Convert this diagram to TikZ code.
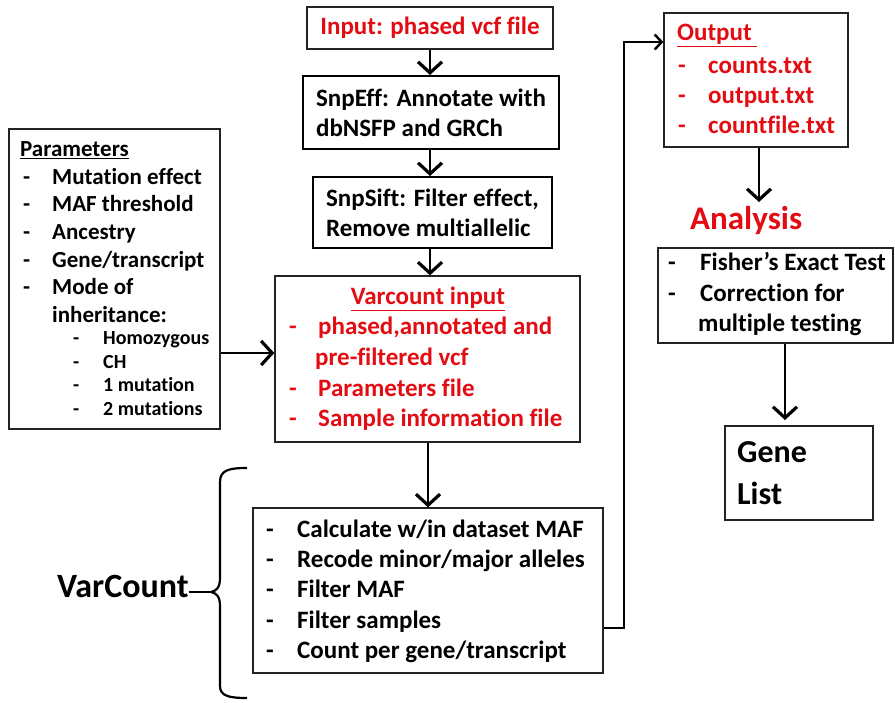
\documentclass[tikz,border=0pt]{standalone}
\usepackage{fontspec}
\setmainfont{Carlito}[Ligatures=NoCommon]
\usetikzlibrary{arrows.meta,calc,fit}
\definecolor{myred}{RGB}{226,12,18}
\definecolor{boxline}{RGB}{35,35,35}
\begin{document}
\begin{tikzpicture}[x=1pt,y=-1pt,
  box/.style={draw=boxline,line width=1.3pt,inner sep=0pt},
  thickbox/.style={draw=black,line width=2pt,inner sep=0pt},
  t/.style={anchor=base west,inner sep=0pt,font=\bfseries\fontsize{25}{30}\selectfont},
  tr/.style={t,text=myred},
  tp/.style={anchor=base west,inner sep=0pt,font=\bfseries\fontsize{23}{28}\selectfont},
  ts/.style={anchor=base west,inner sep=0pt,font=\bfseries\fontsize{20}{24}\selectfont},
  big/.style={anchor=base west,inner sep=0pt,font=\bfseries\fontsize{33}{38}\selectfont},
  ctext/.style={inner sep=0pt,align=left,font=\bfseries\fontsize{25}{30}\selectfont},
  arr/.style={line width=2.8pt,-{Straight Barb[length=11pt,width=24pt,line width=3.2pt]}},
  conn/.style={line width=2pt,-{Straight Barb[length=7pt,width=15pt,line width=2.4pt]}},
]
\useasboundingbox (0,0) rectangle (895,703);

% ---------- boxes ----------
\node[box,fit={(307,7) (553,49)}] (in) {};
\node[thickbox,fit={(303,76) (559,149)}] (eff) {};
\node[thickbox,fit={(313,177) (552,248)}] (sift) {};
\node[box,fit={(275,276) (580,442)}] (varin) {};
\node[box,fit={(9,129) (220,429)}] (par) {};
\node[box,fit={(253,508) (603,673)}] (vc) {};
\node[box,fit={(664,13) (848,147)}] (out) {};
\node[box,fit={(658,248) (893,343)}] (ana) {};
\node[box,line width=1.6pt,fit={(725,426) (873,520)}] (gene) {};

\node[ctext,text=myred] (intxt) at (in.center) {Input: phased vcf file};
\node[ctext] (efftxt) at (eff.center) {SnpEff: Annotate with\\dbNSFP and GRCh};
\node[ctext] (sifttxt) at (sift.center) {SnpSift: Filter effect,\\Remove multiallelic};

% ---------- Parameters ----------
\node[tp] (p0) at (20,157) {\underline{Parameters}};
\node[tp] (p1d) at (23,185) {-};  \node[tp] (p1) at (52,185) {Mutation effect};
\node[tp] (p2d) at (23,212) {-};  \node[tp] (p2) at (52,212) {MAF threshold};
\node[tp] (p3d) at (23,240) {-};  \node[tp] (p3) at (52,240) {Ancestry};
\node[tp] (p4d) at (23,268) {-};  \node[tp] (p4) at (52,268) {Gene/transcript};
\node[tp] (p5d) at (23,295) {-};  \node[tp] (p5) at (52,295) {Mode of};
\node[tp] (p6) at (52,323) {inheritance:};
\node[ts] (s1d) at (73,345) {-}; \node[ts] (s1) at (103,345) {Homozygous};
\node[ts] (s2d) at (73,369) {-}; \node[ts] (s2) at (103,369) {CH};
\node[ts] (s3d) at (73,392) {-}; \node[ts] (s3) at (103,392) {1 mutation};
\node[ts] (s4d) at (73,416) {-}; \node[ts] (s4) at (103,416) {2 mutations};

% ---------- Varcount input ----------
\node[tr,anchor=base] (v0) at (428,305) {\underline{Varcount input}};
\node[tr] (v1d) at (289,335) {-}; \node[tr] (v1) at (318,335) {phased,annotated and};
\node[tr] (v2) at (315,366) {pre-filtered vcf};
\node[tr] (v3d) at (289,397) {-}; \node[tr] (v3) at (318,397) {Parameters file};
\node[tr] (v4d) at (289,427) {-}; \node[tr] (v4) at (318,427) {Sample information file};

% ---------- VarCount box ----------
\node[t] (c1d) at (266,537) {-}; \node[t] (c1) at (297,537) {Calculate w/in dataset MAF};
\node[t] (c2d) at (266,567) {-}; \node[t] (c2) at (297,567) {Recode minor/major alleles};
\node[t] (c3d) at (266,597) {-}; \node[t] (c3) at (297,597) {Filter MAF};
\node[t] (c4d) at (266,628) {-}; \node[t] (c4) at (297,628) {Filter samples};
\node[t] (c5d) at (266,658) {-}; \node[t] (c5) at (297,658) {Count per gene/transcript};

% ---------- Output ----------
\node[tr] (o0) at (677,41) {\underline{Output\ }};
\node[tr] (o1d) at (678,74) {-}; \node[tr] (o1) at (708,74) {counts.txt};
\node[tr] (o2d) at (678,104) {-}; \node[tr] (o2) at (708,104) {output.txt};
\node[tr] (o3d) at (678,134) {-}; \node[tr] (o3) at (708,134) {countfile.txt};

% ---------- Analysis ----------
\node[big,text=myred] (anat) at (690,230) {Analysis};
\node[t] (a1d) at (668,271) {-}; \node[t] (a1) at (700,271) {Fisher’s Exact Test};
\node[t] (a2d) at (668,302) {-}; \node[t] (a2) at (700,302) {Correction for};
\node[t] (a3) at (698,332) {multiple testing};

% ---------- Gene list ----------
\node[big,font=\bfseries\fontsize{32}{36}\selectfont] (g1) at (737,463) {Gene};
\node[big,font=\bfseries\fontsize{32}{36}\selectfont] (g2) at (737,504) {List};

% ---------- VarCount label and brace ----------
\node[big,font=\bfseries\fontsize{34}{38}\selectfont] (vcl) at (57,597) {VarCount};
\coordinate (tip) at (211,592);
\draw[line width=2.2pt] (247,468) .. controls (229,468) and (220,470) .. (220,482)
  -- (220,578) .. controls (220,588) and (216,591) .. (tip)
  .. controls (216,593) and (220,596) .. (220,606)
  -- (220,686) .. controls (220,696) and (229,698) .. (247,698);
\draw[line width=2pt] (vcl.east |- tip) -- (tip);

% ---------- arrows ----------
\draw[arr] (in.south) -- (in.south |- eff.north);
\draw[arr] (eff.south -| in.south) -- (in.south |- sift.north);
\draw[arr] (sift.south -| in.south) -- (in.south |- varin.north);
\coordinate (pa) at (0,353);
\draw[arr] (pa -| par.east) -- (pa -| varin.west);
\coordinate (va) at (428,0);
\draw[arr] (va |- varin.south) -- (va |- vc.north);
\coordinate (ob) at (624,628);
\coordinate (ot) at (624,42);
\draw[conn] (ob -| vc.east) -- (ob) -- (ot) -- (ot -| out.west);
\coordinate (oa) at (759,202);
\draw[arr] (oa |- out.south) -- (oa);
\coordinate (ga) at (785,420);
\draw[arr] (ga |- ana.south) -- (ga);
\end{tikzpicture}
\end{document}
